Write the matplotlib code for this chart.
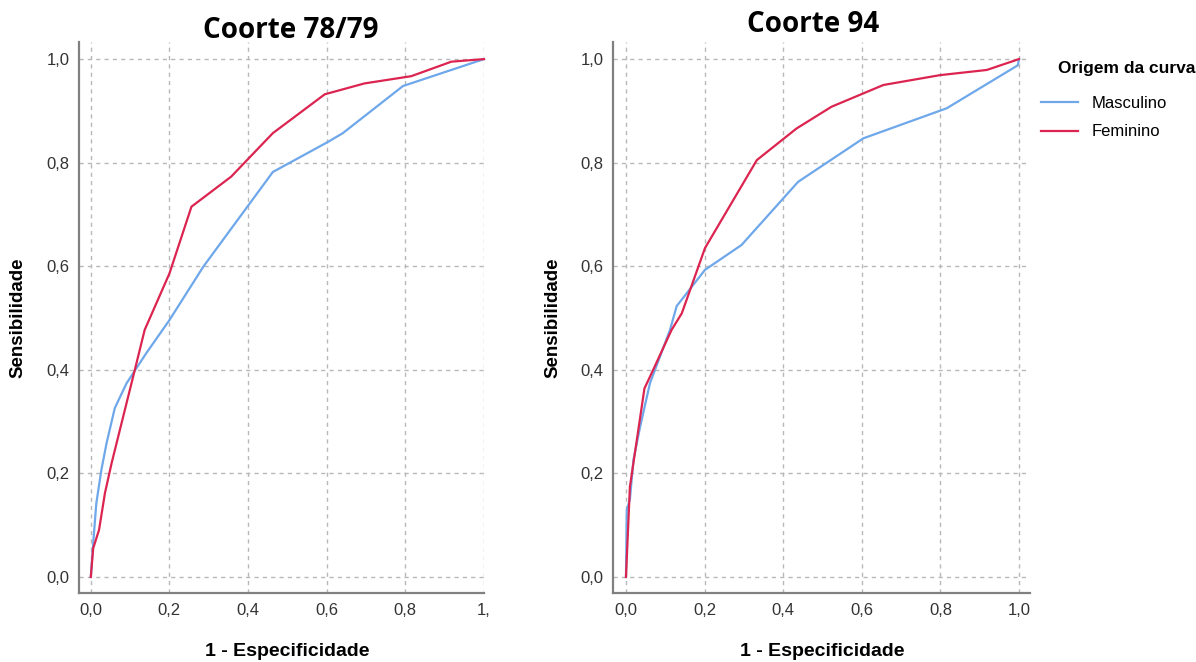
import matplotlib
matplotlib.use("Agg")
import matplotlib.pyplot as plt
from matplotlib.lines import Line2D

# ROC curves (1 - especificidade, sensibilidade)
c78_masc_x = [0, 0.008, 0.014, 0.027, 0.040, 0.061, 0.091, 0.141, 0.200, 0.286, 0.463, 0.603, 0.641, 0.794, 1.0]
c78_masc_y = [0, 0.084, 0.142, 0.207, 0.258, 0.326, 0.374, 0.432, 0.496, 0.599, 0.782, 0.840, 0.857, 0.948, 1.0]
c78_fem_x = [0, 0.006, 0.021, 0.036, 0.053, 0.112, 0.137, 0.200, 0.256, 0.357, 0.463, 0.595, 0.696, 0.815, 0.917, 1.0]
c78_fem_y = [0, 0.055, 0.091, 0.162, 0.220, 0.400, 0.477, 0.586, 0.715, 0.773, 0.857, 0.932, 0.953, 0.967, 0.995, 1.0]

c94_masc_x = [0, 0.002, 0.010, 0.019, 0.036, 0.061, 0.112, 0.129, 0.201, 0.294, 0.438, 0.604, 0.816, 0.997, 1.0]
c94_masc_y = [0, 0.129, 0.150, 0.226, 0.290, 0.374, 0.477, 0.523, 0.593, 0.641, 0.763, 0.847, 0.905, 0.988, 1.0]
c94_fem_x = [0, 0.010, 0.047, 0.065, 0.116, 0.142, 0.201, 0.333, 0.434, 0.523, 0.655, 0.799, 0.918, 1.0]
c94_fem_y = [0, 0.174, 0.364, 0.393, 0.477, 0.509, 0.635, 0.805, 0.866, 0.908, 0.950, 0.969, 0.979, 1.0]

ticks = [0, 0.2, 0.4, 0.6, 0.8, 1.0]
tick_labels = ["0,0", "0,2", "0,4", "0,6", "0,8", "1,0"]
legend_labels = ["Masculino", "Feminino"]
titles = ["Coorte 78/79", "Coorte 94"]

BLUE = "#6ea7ea"
RED = "#dc2450"
SANS = "Liberation Sans"
W, H = 1196, 662

fig = plt.figure(figsize=(11.96, 6.62), dpi=100)
ax1 = fig.add_axes([79 / W, 1 - 593 / H, 405 / W, 551 / H])
ax2 = fig.add_axes([613 / W, 1 - 593 / H, 417 / W, 551 / H])

panels = [(ax1, c78_masc_x, c78_masc_y, c78_fem_x, c78_fem_y, (-0.03, 1.0)),
          (ax2, c94_masc_x, c94_masc_y, c94_fem_x, c94_fem_y, (-0.033, 1.028))]

for ax, mx, my, fx, fy, xl in panels:
    ax.plot(mx, my, color=BLUE, lw=1.6, zorder=3, clip_on=False)
    ax.plot(fx, fy, color=RED, lw=1.6, zorder=4, clip_on=False)
    ax.set_xlim(*xl)
    ax.set_ylim(-0.031, 1.033)
    ax.set_xticks(ticks)
    ax.set_yticks(ticks)
    ax.set_yticklabels(tick_labels, fontfamily=SANS, fontsize=12, color="#333333")
    ax.grid(True, color="#b8b8b8", ls=(0, (3, 3)), lw=1.0)
    ax.set_axisbelow(True)
    for s in ["top", "right"]:
        ax.spines[s].set_visible(False)
    for s in ["left", "bottom"]:
        ax.spines[s].set_color("#808080")
        ax.spines[s].set_linewidth(1.6)
    ax.tick_params(length=0, pad=7)

ax1.set_xticklabels(tick_labels[:-1] + ["1,"], fontfamily=SANS, fontsize=12, color="#333333")
ax2.set_xticklabels(tick_labels, fontfamily=SANS, fontsize=12, color="#333333")

# axis labels
for cx, ycx in [(287, 18), (822, 553)]:
    fig.text(cx / W, 1 - 651 / H, "1 - Especificidade", ha="center", va="center",
             fontfamily=SANS, fontweight="bold", fontsize=14)
    fig.text(ycx / W, 1 - 318 / H, "Sensibilidade", ha="center", va="center",
             rotation=90, fontfamily=SANS, fontweight="bold", fontsize=13.5)

# panel titles
fig.text(291 / W, 1 - 30 / H, titles[0], ha="center", va="center",
         fontfamily="Open Sans", fontweight="bold", fontsize=20)
fig.text(813 / W, 1 - 25 / H, titles[1], ha="center", va="center",
         fontfamily="Open Sans", fontweight="bold", fontsize=20)

# legend
fig.text(1058 / W, 1 - 68 / H, "Origem da curva", ha="left", va="center",
         fontfamily=SANS, fontweight="bold", fontsize=12.5)
handles = [Line2D([], [], color=BLUE, lw=1.6), Line2D([], [], color=RED, lw=1.6)]
fig.legend(handles, legend_labels, loc="upper left",
           bbox_to_anchor=(1041 / W, 1 - 96 / H), frameon=False, borderpad=0,
           borderaxespad=0, prop={"family": SANS, "size": 12}, handlelength=2.2,
           handletextpad=0.85, labelspacing=0.8)

fig.savefig("out.png", dpi=100)
